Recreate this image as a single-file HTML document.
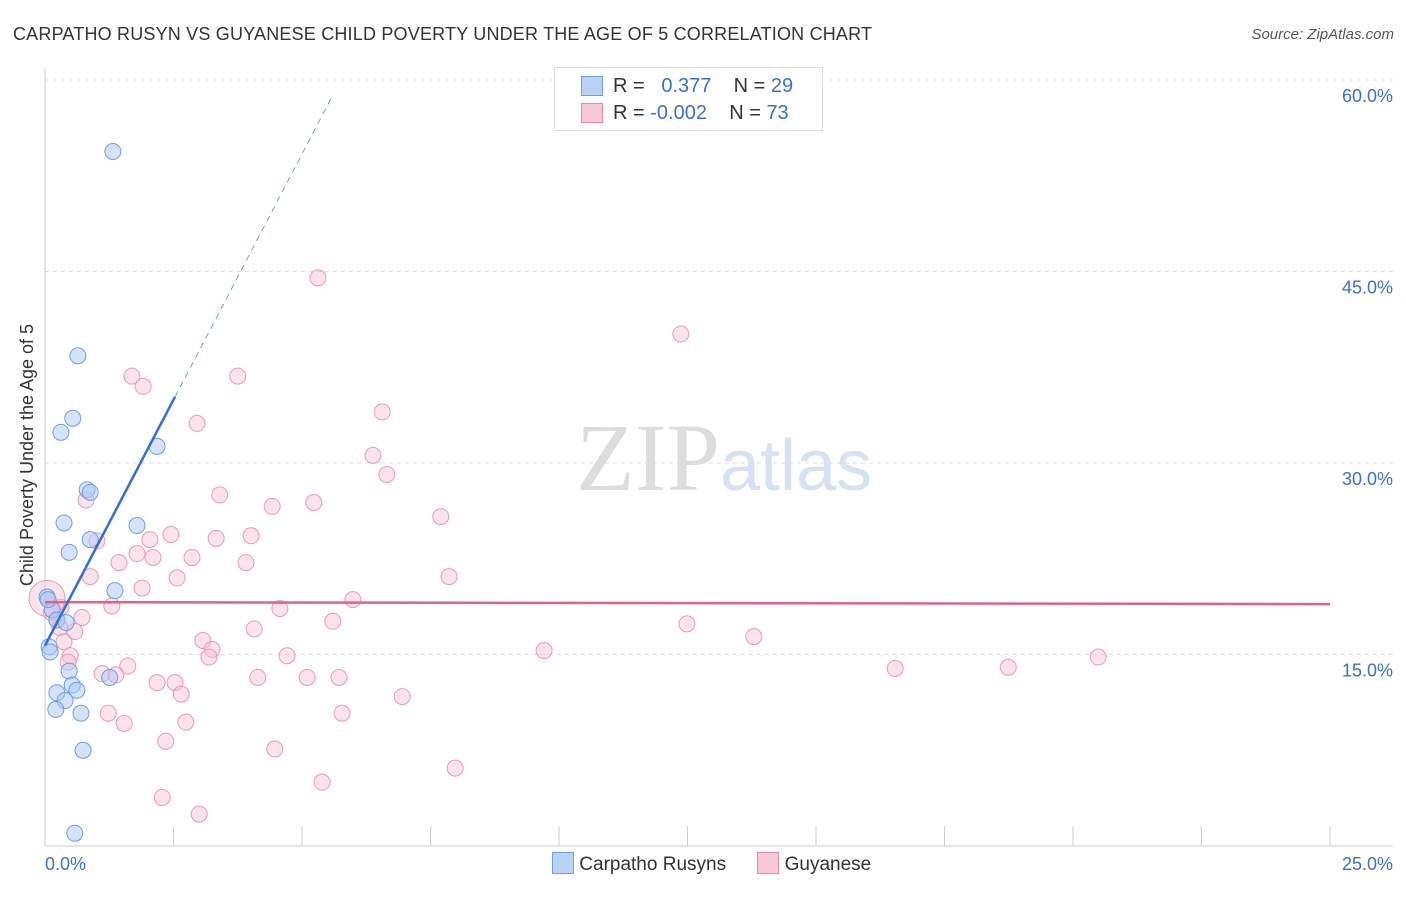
<!DOCTYPE html>
<html><head><meta charset="utf-8"><style>
body{margin:0;background:#fff;font-family:"Liberation Sans",sans-serif;}
#wrap{position:relative;width:1406px;height:892px;}
</style></head><body>
<div id="wrap">
<svg id="svg" width="1406" height="892" xmlns="http://www.w3.org/2000/svg">
<text x="13" y="40" font-size="18" fill="#333" textLength="859">CARPATHO RUSYN VS GUYANESE CHILD POVERTY UNDER THE AGE OF 5 CORRELATION CHART</text>
<text x="1394" y="39" font-size="15" fill="#555" text-anchor="end" font-style="italic">Source: ZipAtlas.com</text>
<text x="720" y="490" font-size="96" fill="#ddd" text-anchor="end" font-family="Liberation Serif">ZIP</text>
<text x="720" y="490" font-size="72" fill="#d6e2f3">atlas</text>
<text transform="translate(33,455) rotate(-90)" font-size="18" fill="#333" text-anchor="middle">Child Poverty Under the Age of 5</text>
<g id="grid"></g><g id="marks"></g>
</svg>
<div style="position:absolute;left:554px;top:67px;width:267px;height:62px;border:1px solid #ddd;background:#fff;font-size:20px;color:#333;">
<div style="position:absolute;left:26px;top:8px;width:20px;height:18px;background:#b8d2f5;border:1px solid #6f9fe0"></div>
<div style="position:absolute;left:58px;top:7px">R = &nbsp;&nbsp;<span style="color:#3a70c8">0.377</span>&nbsp;&nbsp;&nbsp; N = <span style="color:#3a70c8">29</span></div>
<div style="position:absolute;left:26px;top:35px;width:20px;height:18px;background:#f9c8d6;border:1px solid #e88aa6"></div>
<div style="position:absolute;left:58px;top:34px">R = <span style="color:#3a70c8">-0.002</span>&nbsp;&nbsp;&nbsp; N = <span style="color:#3a70c8">73</span></div>
</div>
<div style="position:absolute;left:552px;top:852px;font-size:19px;color:#333;">
<span style="display:inline-block;width:20px;height:20px;background:#b8d2f5;border:1px solid #6f9fe0;vertical-align:-4px"></span> Carpatho Rusyns
<span style="display:inline-block;width:20px;height:20px;background:#f9c8d6;border:1px solid #e88aa6;vertical-align:-4px;margin-left:26px"></span> Guyanese
</div>
</div>
<script>
const yTicks=[15,30,45,60];
const yTickLabels=["15.0%","30.0%","45.0%","60.0%"];
const xTickLabels=["0.0%","25.0%"];
const blueX=[1.32,0.64,0.54,0.31,2.18,0.82,0.88,0.37,1.79,0.47,0.88,1.36,0.04,0.14,0.23,0.41,0.08,0.10,0.47,0.53,0.62,0.23,1.26,0.39,0.21,0.70,0.74,0.58,0.06];
const blueY=[54.4,38.4,33.5,32.4,31.3,27.9,27.7,25.3,25.1,23.0,24.0,20.0,19.5,18.5,17.7,17.5,15.6,15.2,13.7,12.6,12.2,12.0,13.2,11.4,10.7,10.4,7.5,1.0,19.3];
const pinkX=[5.31,12.37,1.69,1.91,3.75,6.56,2.96,6.38,6.65,3.40,0.80,5.23,4.42,7.70,2.04,2.45,3.33,4.01,1.01,1.44,1.79,2.10,2.86,3.91,0.88,2.57,1.89,7.86,1.30,0.31,5.99,4.57,0.12,0.23,0.72,5.60,12.49,0.29,0.58,4.07,13.79,3.07,0.37,3.25,3.19,4.71,9.71,0.49,0.45,1.61,1.11,1.38,16.54,18.74,20.49,4.14,5.10,5.72,2.18,2.53,2.65,6.95,1.23,5.78,1.54,2.74,2.35,4.47,7.98,5.39,2.28,3.00,0.04];
const pinkY=[44.5,40.1,36.8,36.0,36.8,34.0,33.1,30.6,29.1,27.5,27.1,26.9,26.6,25.8,24.0,24.4,24.1,24.3,23.9,22.2,22.9,22.6,22.6,22.2,21.1,21.0,20.2,21.1,18.8,18.7,19.3,18.6,18.3,17.7,17.9,17.6,17.4,17.1,16.8,17.0,16.4,16.1,16.0,15.4,14.8,14.9,15.3,14.9,14.4,14.1,13.5,13.4,13.9,14.0,14.8,13.2,13.2,13.2,12.8,12.8,11.9,11.7,10.4,10.4,9.6,9.7,8.2,7.6,6.1,5.0,3.8,2.5,19.4];
const blueTrend=[15.7,7.7];
const pinkTrend=[19.1,-0.006];
const X=v=>45+v/25*1285, Y=v=>846-v*12.767;
const NS="http://www.w3.org/2000/svg";
function mk(t,a,p){const e=document.createElementNS(NS,t);for(const k in a)e.setAttribute(k,a[k]);(p||document.getElementById('marks')).appendChild(e);return e;}
const g=document.getElementById('grid');
yTicks.forEach((t,i)=>{
 let l=mk('line',{x1:45,x2:1393,y1:Y(t),y2:Y(t),stroke:'#ddd','stroke-dasharray':'4,4'},g);
 
 
 let tx=mk('text',{x:1393,y:Y(t)+22,'font-size':18,fill:'#3a70c8','text-anchor':'end'},g);tx.textContent=yTickLabels[i];
 
 
});
let ax=mk('line',{x1:45,x2:45,y1:68,y2:846,stroke:'#ccc'},g);


let bx=mk('line',{x1:45,x2:1393,y1:846,y2:846,stroke:'#ccc'},g);


for(let i=0;i<=10;i++){let t=mk('line',{x1:X(i*2.5),x2:X(i*2.5),y1:826,y2:846,stroke:'#ccc'},g);
 
 }
[[0,45,'start'],[25,1393,'end']].forEach((d,i)=>{let t=mk('text',{x:d[1],y:870,'font-size':18,fill:'#3a70c8','text-anchor':d[2]},g);t.textContent=xTickLabels[i];
 
 });
pinkX.forEach((x,i)=>{let c=mk('circle',{cx:X(x),cy:Y(pinkY[i]),r:i==pinkX.length-1?18:8,fill:'rgba(248,190,208,0.45)',stroke:'#ec9ab4','stroke-width':1});
 
 });
blueX.forEach((x,i)=>{let c=mk('circle',{cx:X(x),cy:Y(blueY[i]),r:8,fill:'rgba(170,200,245,0.5)',stroke:'#6f9fe0','stroke-width':1});
 
 });
let pl=mk('line',{x1:X(0),y1:Y(pinkTrend[0]),x2:X(25),y2:Y(pinkTrend[0]+pinkTrend[1]*25),stroke:'#e0628a','stroke-width':2.5});


let bl=mk('line',{x1:X(0),y1:Y(blueTrend[0]),x2:X(2.53),y2:Y(blueTrend[0]+blueTrend[1]*2.53),stroke:'#2f6fd6','stroke-width':2.5});


let bd=mk('line',{x1:X(2.53),y1:Y(blueTrend[0]+blueTrend[1]*2.53),x2:X(5.6),y2:Y(blueTrend[0]+blueTrend[1]*5.6),stroke:'#6f9fe0','stroke-width':1,'stroke-dasharray':'6,5'});


</script>
</body></html>
